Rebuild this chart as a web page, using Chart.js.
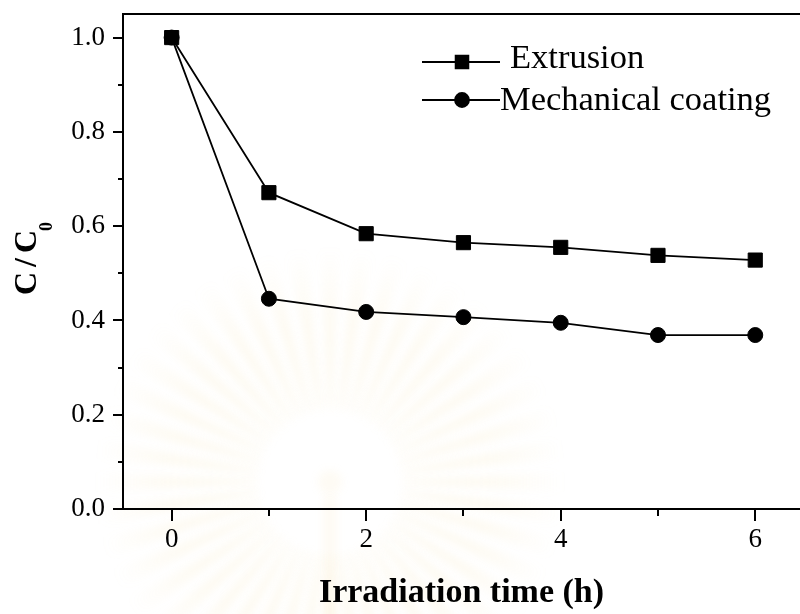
<!DOCTYPE html>
<html>
<head>
<meta charset="utf-8">
<script src="https://cdn.jsdelivr.net/npm/chart.js@4.4.0/dist/chart.umd.min.js"></script>
<style>
    html, body { margin: 0; padding: 0; background: #fff; overflow: hidden; }
</style>
</head>
<body>
<canvas id="myChart" width="800" height="614"></canvas>
<script>
// irradiation time (h) and C/C0 for both samples
const hours = [0, 1, 2, 3, 4, 5, 6];
const extrusion = [1.0, 0.671, 0.584, 0.565, 0.555, 0.538, 0.528];
const mechanicalCoating = [1.0, 0.446, 0.418, 0.407, 0.395, 0.369, 0.369];

const xMajorTicks = [0, 2, 4, 6];
const xMinorTicks = [1, 3, 5];
const yMajorTicks = [0.0, 0.2, 0.4, 0.6, 0.8, 1.0];
const yMinorTicks = [0.1, 0.3, 0.5, 0.7, 0.9];

const serif = "'Liberation Serif', 'Times New Roman', serif";

function toPoints(values) {
    return hours.map((h, i) => ({ x: h, y: values[i] }));
}

// faint emblem behind the plot
const watermark = {
    id: "watermark",
    beforeDraw(chart) {
        const ctx = chart.ctx;
        const cx = 330, cy = 482;
        ctx.save();
        ctx.filter = "blur(4px)";
        const grad = ctx.createRadialGradient(cx, cy, 60, cx, cy, 235);
        grad.addColorStop(0, "rgba(240, 208, 120, 0.14)");
        grad.addColorStop(0.6, "rgba(240, 208, 120, 0.09)");
        grad.addColorStop(1, "rgba(240, 208, 120, 0)");
        ctx.fillStyle = grad;
        const n = 44;
        for (let i = 0; i < n; i++) {
            const a = (i / n) * Math.PI * 2;
            const da = (Math.PI / n) * 0.6;
            ctx.beginPath();
            ctx.moveTo(cx + Math.cos(a - da * 0.4) * 72, cy + Math.sin(a - da * 0.4) * 72);
            ctx.lineTo(cx + Math.cos(a - da) * 235, cy + Math.sin(a - da) * 235);
            ctx.lineTo(cx + Math.cos(a + da) * 235, cy + Math.sin(a + da) * 235);
            ctx.lineTo(cx + Math.cos(a + da * 0.4) * 72, cy + Math.sin(a + da * 0.4) * 72);
            ctx.closePath();
            ctx.fill();
        }
        ctx.fillStyle = "rgba(240, 208, 120, 0.08)";
        ctx.beginPath();
        ctx.arc(cx, cy, 12, 0, Math.PI * 2);
        ctx.fill();
        ctx.fillRect(cx - 7, cy + 14, 14, 140);
        ctx.restore();
    },
};

// top frame line, tick marks, y title and legend
const frame = {
    id: "frame",
    afterDraw(chart) {
        const ctx = chart.ctx;
        const area = chart.chartArea;
        const xs = chart.scales.x;
        const ys = chart.scales.y;

        ctx.save();
        ctx.strokeStyle = "#000";
        ctx.lineWidth = 2;
        ctx.beginPath();
        ctx.moveTo(area.left - 1, area.top);
        ctx.lineTo(area.right, area.top);
        ctx.stroke();

        ctx.beginPath();
        xMajorTicks.forEach((v) => {
            const x = Math.round(xs.getPixelForValue(v));
            ctx.moveTo(x, area.bottom);
            ctx.lineTo(x, area.bottom + 12);
        });
        xMinorTicks.forEach((v) => {
            const x = Math.round(xs.getPixelForValue(v));
            ctx.moveTo(x, area.bottom);
            ctx.lineTo(x, area.bottom + 7);
        });
        yMajorTicks.forEach((v) => {
            const y = Math.round(ys.getPixelForValue(v));
            ctx.moveTo(area.left, y);
            ctx.lineTo(area.left - 10, y);
        });
        yMinorTicks.forEach((v) => {
            const y = Math.round(ys.getPixelForValue(v));
            ctx.moveTo(area.left, y);
            ctx.lineTo(area.left - 5, y);
        });
        ctx.stroke();

        // C/C0 rotated title
        ctx.fillStyle = "#000";
        ctx.translate(36, 295);
        ctx.rotate(-Math.PI / 2);
        ctx.font = "bold 32px " + serif;
        ctx.letterSpacing = "5px";
        ctx.textBaseline = "alphabetic";
        ctx.textAlign = "left";
        ctx.fillText("C/C", 0, 0);
        const w = ctx.measureText("C/C").width;
        ctx.letterSpacing = "0px";
        ctx.font = "bold 18px " + serif;
        ctx.fillText("0", w - 6, 16);
        ctx.restore();

        // legend: line + marker + label
        const rows = [
            { y: 62, textX: 510, textY: 68 },
            { y: 100, textX: 500, textY: 110 },
        ];
        ctx.save();
        chart.data.datasets.forEach((ds, i) => {
            const r = rows[i];
            ctx.strokeStyle = "#000";
            ctx.lineWidth = 1.8;
            ctx.beginPath();
            ctx.moveTo(422, r.y);
            ctx.lineTo(500, r.y);
            ctx.stroke();
            ctx.fillStyle = "#000";
            Chart.helpers.drawPoint(ctx, {
                pointStyle: ds.pointStyle,
                radius: ds.pointStyle === "rect" ? 9 : 7,
                borderWidth: 1,
            }, 462, r.y);
            ctx.fill();
            ctx.font = "34.5px " + serif;
            ctx.textBaseline = "alphabetic";
            ctx.textAlign = "left";
            ctx.fillText(ds.label, r.textX, r.textY);
        });
        ctx.restore();
    },
};

new Chart(document.getElementById("myChart"), {
    type: "line",
    data: {
        datasets: [
            {
                label: "Extrusion",
                data: toPoints(extrusion),
                borderColor: "#000",
                backgroundColor: "#000",
                borderWidth: 1.8,
                pointStyle: "rect",
                pointRadius: 10,
                pointBorderWidth: 1,
            },
            {
                label: "Mechanical coating",
                data: toPoints(mechanicalCoating),
                borderColor: "#000",
                backgroundColor: "#000",
                borderWidth: 1.8,
                pointStyle: "circle",
                pointRadius: 7.5,
                pointBorderWidth: 1,
            },
        ],
    },
    options: {
        responsive: false,
        animation: false,
        layout: {
            autoPadding: false,
            padding: { top: 14, right: 0, left: 0, bottom: 0 },
        },
        plugins: {
            legend: { display: false },
            tooltip: { enabled: false },
        },
        scales: {
            x: {
                type: "linear",
                min: -0.5,
                max: 6.46,
                afterBuildTicks: (scale) => {
                    scale.ticks = xMajorTicks.map((v) => ({ value: v }));
                },
                afterFit: (scale) => {
                    scale.height = 105;
                    scale.paddingLeft = 0;
                    scale.paddingRight = 0;
                },
                ticks: {
                    color: "#000",
                    font: { family: serif, size: 27 },
                    padding: 3,
                    maxRotation: 0,
                    autoSkip: false,
                },
                grid: { display: false, tickLength: 12 },
                border: { display: true, color: "#000", width: 2 },
                title: {
                    display: true,
                    text: "Irradiation time (h)",
                    color: "#000",
                    font: { family: serif, size: 34, weight: "bold" },
                    padding: { top: 0, bottom: 0 },
                },
            },
            y: {
                min: 0,
                max: 1.05,
                afterBuildTicks: (scale) => {
                    scale.ticks = yMajorTicks.map((v) => ({ value: v }));
                },
                afterFit: (scale) => {
                    scale.width = 123;
                    scale.paddingTop = 0;
                    scale.paddingBottom = 0;
                },
                ticks: {
                    color: "#000",
                    font: { family: serif, size: 27 },
                    padding: 8,
                    callback: (v) => Number(v).toFixed(1),
                },
                grid: { display: false, tickLength: 10 },
                border: { display: true, color: "#000", width: 2 },
            },
        },
    },
    plugins: [watermark, frame],
});
</script>
</body>
</html>
